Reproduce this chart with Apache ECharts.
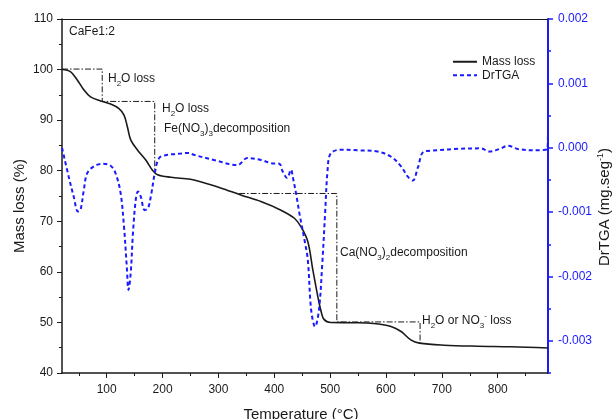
<!DOCTYPE html>
<html>
<head>
<meta charset="utf-8">
<script src="https://cdn.jsdelivr.net/npm/echarts@6/dist/echarts.min.js"></script>
<style>
  html, body { margin: 0; padding: 0; background: #fff; }
  #chart { width: 613px; height: 419px; }
</style>
</head>
<body>
<div id="chart"></div>
<script>
// mass loss curve (TGA)
var massTemp = [20, 35, 47, 59, 71, 89, 107, 122, 131, 137, 143, 155, 170, 182, 191, 215, 250, 268, 304, 340,
    376, 412, 436, 448, 460, 469, 478, 484, 489, 501, 537, 578, 609, 627, 645, 660, 704, 764, 824, 890];
var massVals = [100.0, 99.6, 98.0, 96.0, 94.6, 93.8, 93.2, 92.3, 91.0, 88.7, 86.1, 84.1, 82.1, 80.1, 79.2, 78.7, 78.3, 77.8, 76.6, 75.2,
    73.9, 72.2, 70.6, 68.9, 66.0, 60.4, 55.1, 52.1, 50.6, 50.0, 49.95, 49.8, 49.2, 48.2, 46.5, 45.9, 45.5, 45.3, 45.2, 44.95];

// derivative curve (DrTGA)
var dtgTemp = [20, 32, 41, 48.5, 53, 59, 65, 77, 92, 107, 116, 125, 131, 136, 139, 143, 147, 152, 156, 161,
    168, 174, 180, 186, 194, 209, 221, 233, 247, 256, 292, 334, 352, 376, 394, 409, 415, 423, 430, 433,
    439, 445, 454, 460, 466, 473, 480, 486, 491, 495.5, 501, 519, 549, 585, 609, 627, 639, 648, 657, 668,
    693, 722, 770, 785, 803, 818, 836, 866, 889, 890];
var dtgVals = [0.0000, -0.00045, -0.00076, -0.00099, -0.00097, -0.00066, -0.00040, -0.00029, -0.00025, -0.00028,
    -0.00040, -0.00071, -0.00123, -0.00185, -0.00221, -0.00195, -0.00133, -0.00081, -0.00068, -0.00076,
    -0.00097, -0.00094, -0.00071, -0.00040, -0.00016, -0.00011, -0.00010, -0.00009, -0.00008, -0.00011,
    -0.00019, -0.00027, -0.00016, -0.00019, -0.00024, -0.00025, -0.00037, -0.00047, -0.00034, -0.00045,
    -0.00071, -0.00102, -0.00143, -0.00174, -0.00252, -0.00278, -0.00252, -0.00179, -0.00102, -0.00034,
    -0.00009, -0.00003, -0.00004, -0.00006, -0.00014, -0.00029, -0.00045, -0.00051, -0.00031, -0.00006,
    -0.00004, -0.00002, -0.00001, -0.00006, -0.00002, 0.00003, -0.00002, -0.00004, -0.00002, 0.00031];

// dash-dot step guides (temperature, mass %)
var guideA = [[20, 100.1], [92, 100.1], [92, 93.7], [186, 93.7], [186, 79.5]];
var guideB = [[337, 75.5], [512, 75.5], [512, 50.1], [661, 50.1], [661, 45.9]];

// tick labels
var xLabels = [100, 200, 300, 400, 500, 600, 700, 800];
var xMinor = [50, 150, 250, 350, 450, 550, 650, 750, 850];
var rightLabels = [-0.003, -0.002, -0.001, 0, 0.001, 0.002];

var BLUE = '#1a1aff';
var INK = '#1a1a1a';
var FONT = 'Liberation Sans, Arial, sans-serif';

function zip(xs, ys) {
    return xs.map(function (x, i) { return [x, ys[i]]; });
}

var chart = echarts.init(document.getElementById('chart'));

var rich = {
    n: { fontSize: 12, fontFamily: FONT, color: INK, lineHeight: 18 },
    s: { fontSize: 8, fontFamily: FONT, color: INK, lineHeight: 9, verticalAlign: 'bottom' },
    p: { fontSize: 8, fontFamily: FONT, color: INK, lineHeight: 9, verticalAlign: 'top' }
};

function note(x, y, text) {
    return {
        type: 'text', left: x, top: y - 9, silent: true,
        style: { text: text, rich: rich, font: '12px ' + FONT, fill: INK }
    };
}

var option = {
    animation: false,
    textStyle: { fontFamily: FONT },
    grid: { left: 62, right: 65, top: 19, bottom: 46, outerBoundsMode: 'none', containLabel: false },
    legend: {
        data: ['Mass loss', 'DrTGA'],
        orient: 'vertical',
        left: 447, top: 50,
        itemWidth: 24, itemHeight: 10, itemGap: 0,
        itemStyle: { opacity: 0 },
        textStyle: { fontSize: 12, color: INK, fontFamily: FONT, lineHeight: 13.5 }
    },
    xAxis: [
        {
            type: 'value', position: 'bottom', min: 20, max: 890,
            name: 'Temperature (°C)', nameLocation: 'middle', nameGap: 34, nameMoveOverlap: false,
            nameTextStyle: { fontSize: 15, color: INK, fontFamily: FONT, padding: [0, 8, 0, 0] },
            axisLine: { onZero: false, lineStyle: { color: INK, width: 1.5 } },
            axisTick: { customValues: xLabels, length: 5, lineStyle: { color: INK, width: 1 } },
            axisLabel: { customValues: xLabels, fontSize: 12, color: INK, margin: 11 },
            splitLine: { show: false }
        },
        {
            type: 'value', position: 'bottom', min: 20, max: 890,
            axisLine: { show: false, onZero: false },
            axisTick: { customValues: xMinor, length: 3, lineStyle: { color: INK, width: 1 } },
            axisLabel: { show: false },
            splitLine: { show: false }
        },
        {
            type: 'value', position: 'top', min: 20, max: 890,
            axisLine: { onZero: false, lineStyle: { color: INK, width: 1 } },
            axisTick: { show: false }, axisLabel: { show: false },
            splitLine: { show: false }
        }
    ],
    yAxis: [
        {
            type: 'value', position: 'left', min: 40, max: 110, interval: 10,
            name: 'Mass loss (%)', nameLocation: 'middle', nameGap: 35, nameMoveOverlap: false,
            nameTextStyle: { fontSize: 15, color: INK, fontFamily: FONT, padding: [0, 20, 0, 0] },
            axisLine: { show: true, onZero: false, lineStyle: { color: INK, width: 1.5 } },
            axisTick: { show: true, length: 5, lineStyle: { color: INK } },
            minorTick: { show: true, splitNumber: 2, length: 3, lineStyle: { color: INK } },
            axisLabel: { fontSize: 12, color: INK, margin: 9 },
            splitLine: { show: false }
        },
        {
            type: 'value', position: 'right', min: -0.0035, max: 0.002,
            name: 'DrTGA {n|(mg.seg}{p|-1}{n|)}', nameLocation: 'middle', nameGap: 48, nameMoveOverlap: false,
            nameTextStyle: {
                fontSize: 15, color: INK, fontFamily: FONT, padding: [0, 22, 0, 0],
                rich: {
                    n: { fontSize: 15, fontFamily: FONT, color: INK, lineHeight: 17 },
                    p: { fontSize: 9, fontFamily: FONT, color: INK, lineHeight: 10, verticalAlign: 'top' }
                }
            },
            axisLine: { show: true, onZero: false, lineStyle: { color: BLUE, width: 2 } },
            axisTick: { show: true, customValues: rightLabels, length: 5, lineStyle: { color: BLUE, width: 1.5 } },
            axisLabel: {
                customValues: rightLabels, fontSize: 12, color: BLUE, margin: 10,
                formatter: function (v) { return v.toFixed(3); }
            },
            splitLine: { show: false }
        },
        {
            type: 'value', position: 'right', min: -0.0035, max: 0.002, interval: 0.0005,
            axisLine: { show: false, onZero: false },
            axisTick: { show: true, length: 3, lineStyle: { color: BLUE, width: 1.5 } },
            axisLabel: { show: false },
            splitLine: { show: false }
        }
    ],
    series: [
        {
            name: 'Guide A', type: 'line', xAxisIndex: 0, yAxisIndex: 0, data: guideA,
            symbol: 'none', silent: true,
            lineStyle: { color: INK, width: 1, type: [6, 2, 1.5, 2] }
        },
        {
            name: 'Guide B', type: 'line', xAxisIndex: 0, yAxisIndex: 0, data: guideB,
            symbol: 'none', silent: true,
            lineStyle: { color: INK, width: 1, type: [6, 2, 1.5, 2] }
        },
        {
            name: 'Mass loss', type: 'line', xAxisIndex: 0, yAxisIndex: 0,
            data: zip(massTemp, massVals), smooth: 0.35, symbol: 'none',
            itemStyle: { color: INK },
            lineStyle: { color: INK, width: 1.6 }
        },
        {
            name: 'DrTGA', type: 'line', xAxisIndex: 0, yAxisIndex: 1,
            data: zip(dtgTemp, dtgVals), smooth: 0.35, symbol: 'none',
            itemStyle: { color: BLUE },
            lineStyle: { color: BLUE, width: 2, type: [4, 3] }
        }
    ],
    graphic: [
        { type: 'text', left: 69, top: 26, silent: true, style: { text: 'CaFe1:2', font: '12px ' + FONT, fill: INK } },
        note(108, 82, '{n|H}{s|2}{n|O loss}'),
        note(162, 112, '{n|H}{s|2}{n|O loss}'),
        note(164, 132, '{n|Fe(NO}{s|3}{n|)}{s|3}{n|decomposition}'),
        note(340, 256, '{n|Ca(NO}{s|3}{n|)}{s|2}{n|decomposition}'),
        note(422, 321, '{n|H}{s|2}{n|O or NO}{s|3}{p|-}{n| loss}')
    ]
};

chart.setOption(option);
</script>
</body>
</html>
